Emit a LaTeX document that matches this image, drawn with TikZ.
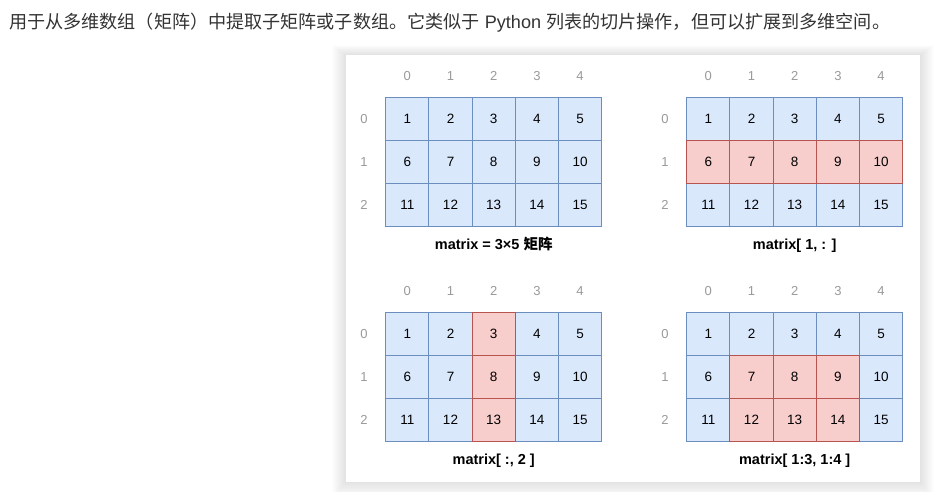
\documentclass[tikz,border=0pt]{standalone}
\usepackage{fontspec}
\setmainfont{Liberation Sans}
\newfontfamily\cjk{Noto Sans CJK SC}
\usetikzlibrary{positioning,calc}
\definecolor{cellblue}{HTML}{DAE8FC}
\definecolor{lineblue}{HTML}{6C8EBF}
\definecolor{cellred}{HTML}{F8CECC}
\definecolor{linered}{HTML}{B85450}
\definecolor{idxgray}{HTML}{9A9A9A}
\definecolor{bodytext}{HTML}{333333}

\begin{document}
\begin{tikzpicture}[x=1pt, y=1pt,
  cell/.style={draw=lineblue, fill=cellblue, line width=1pt, outer sep=0pt, inner sep=0pt, minimum width=43.2pt, minimum height=43pt, font=\fontsize{13.5}{16}\selectfont},
  hot/.style={fill=cellred},
  idx/.style={inner sep=0pt, text=idxgray, font=\fontsize{13}{16}\selectfont},
  caption/.style={inner sep=0pt, font=\fontsize{14.5}{17}\selectfont\bfseries}
]
\useasboundingbox (0,0) rectangle (943,-491);

% intro line
\node[anchor=base west, inner sep=0pt, text=bodytext, font=\fontsize{18.1}{22}\selectfont] (intro) at (9,-28.5)
  {{\cjk 用于从多维数组（矩阵）中提取子矩阵或子数组。它类似于} Python {\cjk 列表的切片操作，但可以扩展到多维空间。}};

% card with soft shadow
\foreach \s in {1,...,14}
  \fill[black, opacity=0.008] (346-\s,-55+\s*0.7) rectangle (920+\s,-482-\s*1.1);
\fill[white] (346,-55) rectangle (920,-482);

% the four grids
\foreach \g/\ox/\oy/\test/\captext in {
    a/385.7/-97.7/0/{matrix = 3×5 {\cjk 矩阵}},
    b/686.7/-97.7/{\r==1}/{matrix[ 1, : ]},
    c/385.7/-312.7/{\c==2}/{matrix[ :, 2 ]},
    d/686.7/-312.7/{and(\r>0,and(\c>0,\c<4))}/{matrix[ 1:3, 1:4 ]}} {
  \foreach \r in {0,1,2}
    \foreach \c in {0,...,4} {
      \pgfmathtruncatemacro\hit{\test}
      \pgfmathtruncatemacro\num{5*\r+\c+1}
      \ifnum\hit=1 \def\look{hot}\else\def\look{}\fi
      \node[cell, \look] (\g-\r-\c) at (\ox+43.2*\c+21.6, \oy-43*\r-21.5) {\num};
    }
  % red borders on top of the blue ones
  \foreach \r in {0,1,2}
    \foreach \c in {0,...,4} {
      \pgfmathtruncatemacro\hit{\test}
      \ifnum\hit=1
        \draw[linered, line width=1pt] (\g-\r-\c.north west) rectangle (\g-\r-\c.south east);
      \fi
    }
  \foreach \c in {0,...,4}
    \node[idx, above=17pt of \g-0-\c] (\g-top\c) {\c};
  \foreach \r in {0,1,2}
    \node[idx, left=18pt of \g-\r-0] (\g-side\r) {\r};
  \node[caption, below=22.3pt of \g-2-2.south, anchor=base] (\g-cap) {\captext};
}
\end{tikzpicture}
\end{document}
